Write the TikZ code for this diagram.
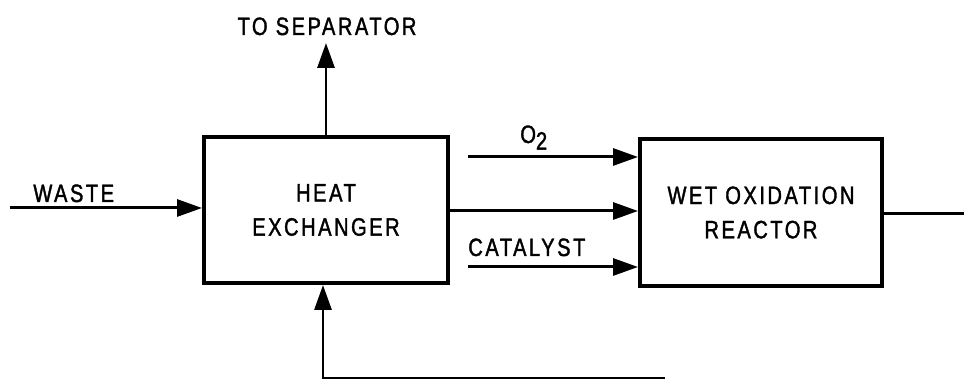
\documentclass[tikz,border=0pt]{standalone}
\usepackage{fontspec}
\setmainfont{Liberation Sans}[LetterSpace=10, FakeStretch=0.8, FakeBold=1.5]
\usetikzlibrary{arrows.meta,positioning}

\begin{document}
\begin{tikzpicture}[
    x=0.02cm, y=0.02cm,
    font=\fontsize{14.3}{19.5}\selectfont,
    unit/.style={rectangle, draw, line width=2.3pt, align=center,
                 minimum width=4.88cm, minimum height=2.92cm, inner sep=0pt},
    flow/.style={-{Triangle[length=0.5cm, width=0.34cm]}, line width=1.7pt},
    pipe/.style={line width=1.7pt}
]
\useasboundingbox (0,0) rectangle (964,381);

\node[unit] (hx) at (326,171) {HEAT\\EXCHANGER};
\node[unit, minimum width=4.84cm, minimum height=2.94cm] (reactor) at (761,168.5)
    {WET OXIDATION\\REACTOR};

% feeds and outlets
\coordinate (waste) at (10,173);
\coordinate (sep) at (326,338);
\coordinate (o2in) at (468,224);
\coordinate (catin) at (468,114);
\coordinate (out) at (964,167);
\coordinate (ret) at (665,3);

\draw[flow] (waste) -- (waste -| hx.west);
\node[anchor=base west, inner sep=0pt] (wastelbl) at (33,179) {WASTE};

\draw[flow] (hx.north) -- (sep);
\node[anchor=base, inner sep=0pt] (seplbl) at (327,346) {TO SEPARATOR};

\draw[flow] (o2in) -- (o2in -| reactor.west);
\node[anchor=base west, inner sep=0pt] (o2lbl) at (520,238) {O\raisebox{-0.5ex}{2}};

\draw[flow] (hx.east |- 0,170) -- (reactor.west |- 0,170);

\draw[flow] (catin) -- (catin -| reactor.west);
\node[anchor=base west, inner sep=0pt] (catlbl) at (468,125) {CATALYST};

\draw[pipe] (reactor.east |- out) -- (out);

\draw[flow] (ret) -- (ret -| 323,0) -- (323,0 |- hx.south);
\end{tikzpicture}
\end{document}
